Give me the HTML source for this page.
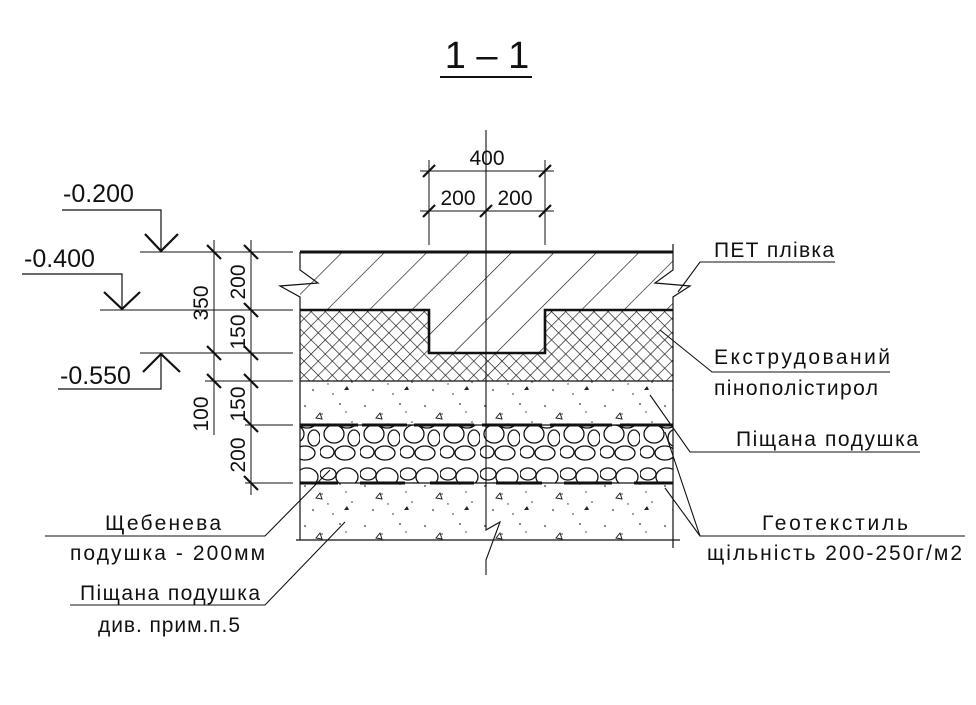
<!DOCTYPE html>
<html><head><meta charset="utf-8"><style>
html,body{margin:0;padding:0;background:#fff}
svg text{font-family:"Liberation Sans","DejaVu Sans",sans-serif;fill:#111}
</style></head><body>
<svg width="976" height="700" viewBox="0 0 976 700" xmlns="http://www.w3.org/2000/svg">
<defs>
<pattern id="diag" width="30" height="30" patternUnits="userSpaceOnUse" patternTransform="rotate(45)">
<line x1="0" y1="0" x2="0" y2="30" stroke="#111" stroke-width="1.3"/>
</pattern>
<pattern id="xps" width="10" height="10" patternUnits="userSpaceOnUse" patternTransform="rotate(45)">
<line x1="0" y1="0" x2="0" y2="10" stroke="#111" stroke-width="1.3"/>
<line x1="0" y1="0" x2="10" y2="0" stroke="#111" stroke-width="1.3"/>
</pattern>
<pattern id="sand" width="60" height="40" patternUnits="userSpaceOnUse">
<circle cx="5" cy="6" r="0.9" fill="#333"/><circle cx="22" cy="14" r="0.8" fill="#333"/>
<circle cx="40" cy="4" r="0.9" fill="#333"/><circle cx="52" cy="22" r="0.8" fill="#333"/>
<circle cx="13" cy="30" r="0.9" fill="#333"/><circle cx="33" cy="34" r="0.8" fill="#333"/>
<circle cx="46" cy="12" r="0.7" fill="#333"/><circle cx="28" cy="24" r="0.7" fill="#333"/>
<path d="M16 18 l4 -5 l2 6 z" fill="none" stroke="#222" stroke-width="1"/>
<path d="M44 30 l3 -4 l2 4 z" fill="#222"/>
</pattern>
<pattern id="grav" width="40" height="58" patternUnits="userSpaceOnUse">
<ellipse cx="8" cy="10" rx="8" ry="6" fill="none" stroke="#111" stroke-width="1.3"/>
<ellipse cx="27" cy="13" rx="11" ry="9" fill="none" stroke="#111" stroke-width="1.3"/>
<ellipse cx="14" cy="28" rx="10" ry="9" fill="none" stroke="#111" stroke-width="1.3"/>
<ellipse cx="34" cy="32" rx="6" ry="8" fill="none" stroke="#111" stroke-width="1.3"/>
<ellipse cx="7" cy="46" rx="7" ry="6" fill="none" stroke="#111" stroke-width="1.3"/>
<ellipse cx="25" cy="47" rx="10" ry="7" fill="none" stroke="#111" stroke-width="1.3"/>
</pattern>
</defs>

<text x="487" y="68" font-size="38" text-anchor="middle">1 – 1</text>
<line x1="440" y1="77" x2="532" y2="77" stroke="#111" stroke-width="2"/>

<rect x="300" y="252" width="373" height="101" fill="url(#diag)"/>
<path d="M300 310 H429 V353 H545 V310 H673 V381 H300 Z" fill="#fff"/>
<path d="M300 310 H429 V353 H545 V310 H673 V381 H300 Z" fill="url(#xps)"/>
<rect x="300" y="381" width="373" height="44" fill="url(#sand)"/>
<rect x="300" y="425" width="373" height="58" fill="url(#grav)"/>
<rect x="300" y="483" width="373" height="57" fill="url(#sand)"/>

<g stroke="#111" fill="none">
<line x1="300" y1="252" x2="673" y2="252" stroke-width="3"/>
<path d="M300 310 H429 V353 H545 V310 H673" stroke-width="2.6"/>
<line x1="300" y1="381" x2="673" y2="381" stroke-width="1.2"/>
<line x1="300" y1="425" x2="673" y2="425" stroke-width="1.2"/>
<line x1="300" y1="483" x2="673" y2="483" stroke-width="1.2"/>
<path d="M300 425 H358 M362 425 H407 M414 425 H474 M482 425 H542 M550 425 H612 M620 425 H673" stroke-width="3"/>
<path d="M300 483 H338 M360 483 H405 M430 483 H474 M496 483 H542 M564 483 H612 M634 483 H673" stroke-width="3"/>
<line x1="296" y1="540" x2="680" y2="540" stroke-width="1.2"/>
<path d="M300 252 V270 L318 283 L280 286 L300 297 V540" stroke-width="1.2"/>
<path d="M673 244 V270 L655 283 L690 286 L673 297 V548" stroke-width="1.2"/>
<path d="M486 130 V530 L500 522 L486 560 V575" stroke-width="1.1"/>
<line x1="420" y1="171" x2="554" y2="171" stroke-width="1"/>
<line x1="420" y1="211" x2="554" y2="211" stroke-width="1"/>
<line x1="429" y1="160" x2="429" y2="245" stroke-width="1"/>
<line x1="545" y1="160" x2="545" y2="245" stroke-width="1"/>
<g stroke-width="2.2">
<line x1="423" y1="177" x2="435" y2="165"/><line x1="539" y1="177" x2="551" y2="165"/>
<line x1="423" y1="217" x2="435" y2="205"/><line x1="480" y1="217" x2="492" y2="205"/><line x1="539" y1="217" x2="551" y2="205"/>
</g>
<line x1="214" y1="240" x2="214" y2="435" stroke-width="1"/>
<line x1="251" y1="240" x2="251" y2="495" stroke-width="1"/>
<line x1="140" y1="252" x2="293" y2="252" stroke-width="1"/>
<line x1="100" y1="310" x2="293" y2="310" stroke-width="1"/>
<line x1="140" y1="353" x2="293" y2="353" stroke-width="1"/>
<line x1="205" y1="381" x2="293" y2="381" stroke-width="1"/>
<line x1="245" y1="425" x2="293" y2="425" stroke-width="1"/>
<line x1="245" y1="483" x2="293" y2="483" stroke-width="1"/>
<g stroke-width="2.2">
<line x1="207" y1="245" x2="221" y2="259"/><line x1="207" y1="346" x2="221" y2="360"/><line x1="207" y1="374" x2="221" y2="388"/>
<line x1="244" y1="245" x2="258" y2="259"/><line x1="244" y1="303" x2="258" y2="317"/><line x1="244" y1="346" x2="258" y2="360"/>
<line x1="244" y1="374" x2="258" y2="388"/><line x1="244" y1="418" x2="258" y2="432"/><line x1="244" y1="476" x2="258" y2="490"/>
</g>
<path d="M62 210 H161 V252" stroke-width="1.2"/>
<path d="M145 234 L161 251 L178 234" stroke-width="2.2"/>
<path d="M22 274 H122 V310" stroke-width="1.2"/>
<path d="M104 292 L122 309 L140 292" stroke-width="2.2"/>
<path d="M58 389 H161 V353" stroke-width="1.2"/>
<path d="M143 372 L161 354 L180 372" stroke-width="2.2"/>
<path d="M835 262 H700 L678 292" stroke-width="1.1"/>
<path d="M890 372 H712 L660 330" stroke-width="1.1"/>
<path d="M920 452 H690 L650 395" stroke-width="1.1"/>
<path d="M965 536 H700 L665 432 M700 536 L665 488" stroke-width="1.1"/>
<path d="M45 536 H265 L330 470" stroke-width="1.1"/>
<path d="M70 605 H265 L345 522" stroke-width="1.1"/>
</g>

<g font-size="21">
<text x="487" y="165" text-anchor="middle">400</text>
<text x="458" y="205" text-anchor="middle">200</text>
<text x="515" y="205" text-anchor="middle">200</text>
<text x="63" y="202" font-size="25">-0.200</text>
<text x="24" y="267" font-size="25">-0.400</text>
<text x="60" y="384" font-size="25">-0.550</text>
<text transform="translate(208,303) rotate(-90)" text-anchor="middle">350</text>
<text transform="translate(245,282) rotate(-90)" text-anchor="middle">200</text>
<text transform="translate(245,332) rotate(-90)" text-anchor="middle">150</text>
<text transform="translate(208,414) rotate(-90)" text-anchor="middle">100</text>
<text transform="translate(245,404) rotate(-90)" text-anchor="middle">150</text>
<text transform="translate(245,455) rotate(-90)" text-anchor="middle">200</text>
<text x="714" y="257" font-size="21" textLength="120">ПЕТ плівка</text>
<text x="714" y="364" font-size="21" textLength="176">Екструдований</text>
<text x="714" y="395" font-size="21" textLength="164">пінополістирол</text>
<text x="736" y="446" font-size="21" textLength="182">Піщана подушка</text>
<text x="762" y="530" font-size="21" textLength="146">Геотекстиль</text>
<text x="707" y="560" font-size="21" textLength="255">щільність 200-250г/м2</text>
<text x="105" y="530" font-size="21" textLength="116">Щебенева</text>
<text x="70" y="560" font-size="21" textLength="195">подушка - 200мм</text>
<text x="80" y="600" font-size="21" textLength="180">Піщана подушка</text>
<text x="98" y="632" font-size="21" textLength="142">див. прим.п.5</text>
</g>
</svg>
</body></html>
